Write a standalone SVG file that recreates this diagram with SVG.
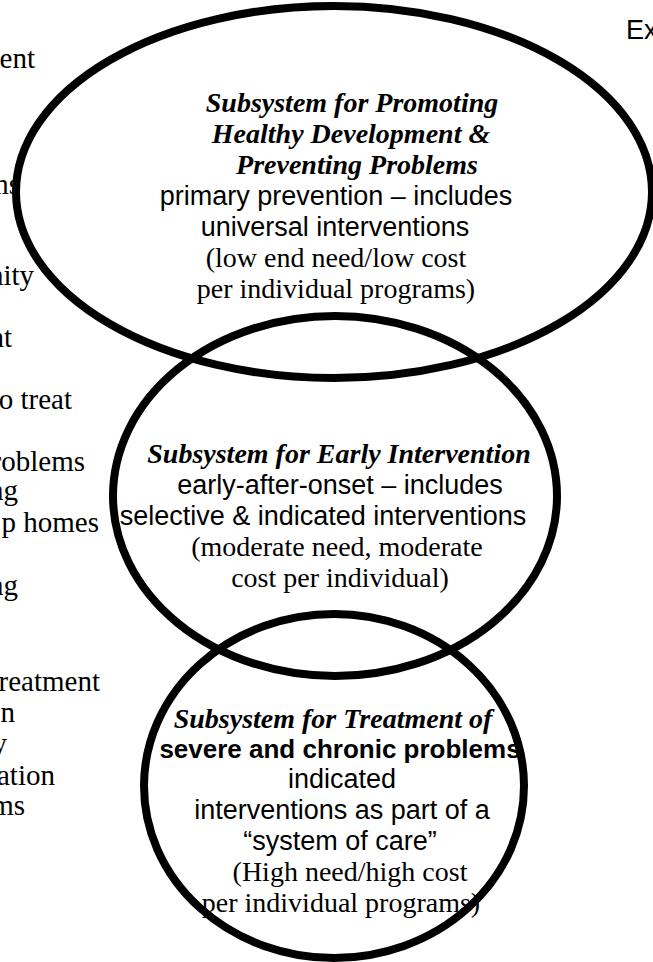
<svg xmlns="http://www.w3.org/2000/svg" width="653" height="962" viewBox="0 0 653 962">
<style>
.ring{fill:none;stroke:#000;stroke-width:8}
.t{font-family:"Liberation Serif","Times New Roman",serif;font-size:28px;fill:#000}
.l{font-family:"Liberation Serif","Times New Roman",serif;font-size:29px;fill:#000;text-anchor:end}
.ti{font-family:"Liberation Serif","Times New Roman",serif;font-size:28px;font-style:italic;font-weight:bold;fill:#000}
.s{font-family:"Liberation Sans",Arial,sans-serif;font-size:27px;fill:#000}
.sb{font-family:"Liberation Sans",Arial,sans-serif;font-size:26px;font-weight:bold;fill:#000}
.c{text-anchor:middle}
</style>
<rect width="653" height="962" fill="#fff"/>
<g id="left-column">
<text class="l" x="35" y="68">ent</text>
<text class="l" x="20" y="194">ms</text>
<text class="l" x="34" y="285">nity</text>
<text class="l" x="12" y="347">nt</text>
<text class="l" x="72" y="409">o treat</text>
<text class="l" x="85" y="471">roblems</text>
<text class="l" x="18" y="500">ng</text>
<text class="l" x="99" y="532">p homes</text>
<text class="l" x="18" y="595">ng</text>
<text class="l" x="100" y="691">reatment</text>
<text class="l" x="15" y="722">on</text>
<text class="l" x="7" y="753">y</text>
<text class="l" x="55" y="785">ation</text>
<text class="l" x="25" y="815">ms</text>
</g>
<g id="ex-label">
<text class="s" x="626" y="39">Ex</text>
</g>
<g id="promoting">
<ellipse class="ring" cx="334" cy="192" rx="318" ry="186"/>
<text class="ti c" x="352" y="112">Subsystem for Promoting</text>
<text class="ti c" x="351" y="143">Healthy Development &amp;</text>
<text class="ti c" x="357" y="174">Preventing Problems</text>
<text class="s c" x="336" y="205">primary prevention – includes</text>
<text class="s c" x="335" y="236">universal interventions</text>
<text class="t c" x="336" y="267">(low end need/low cost</text>
<text class="t c" x="336" y="298">per individual programs)</text>
</g>
<g id="early">
<ellipse class="ring" cx="335" cy="496" rx="222" ry="180"/>
<text class="ti c" x="339" y="463">Subsystem for Early Intervention</text>
<text class="s c" x="340" y="494">early-after-onset – includes</text>
<text class="s c" x="323" y="525">selective &amp; indicated interventions</text>
<text class="t c" x="337" y="556">(moderate need, moderate</text>
<text class="t c" x="340" y="587">cost per individual)</text>
</g>
<g id="treatment">
<ellipse class="ring" cx="334" cy="786" rx="190" ry="172"/>
<text class="ti c" x="333" y="728">Subsystem for Treatment of</text>
<text class="sb c" x="340" y="758">severe and chronic problems</text>
<text class="s c" x="342" y="788">indicated</text>
<text class="s c" x="342" y="819">interventions as part of a</text>
<text class="s c" x="340" y="850">“system of care”</text>
<text class="t c" x="350" y="881">(High need/high cost</text>
<text class="t c" x="341" y="912">per individual programs)</text>
</g>
</svg>
